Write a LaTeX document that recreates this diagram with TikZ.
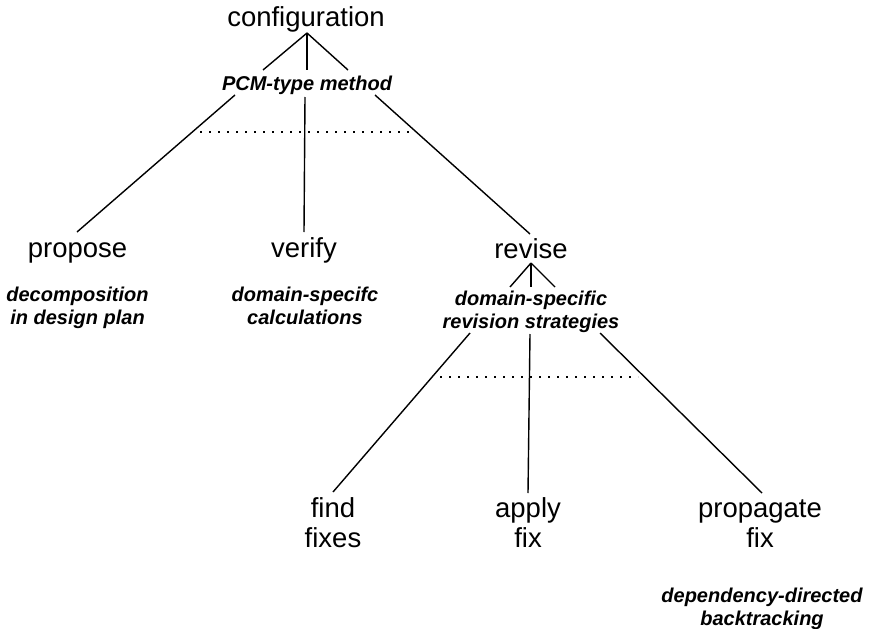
\documentclass[tikz,border=0pt]{standalone}
\usepackage{fontspec}
\setmainfont{Liberation Sans}
\begin{document}
\begin{tikzpicture}[x=1pt,y=-1pt,
  task/.style={inner sep=0pt, anchor=base, align=center,
    font=\fontsize{27.5}{29.5}\selectfont},
  method/.style={inner sep=0pt, anchor=base, align=center,
    font=\fontsize{20}{23}\selectfont\bfseries\itshape},
  link/.style={line width=1.4pt},
  alt/.style={line width=1.8pt, dash pattern=on 1.8pt off 7.2pt}]
\useasboundingbox (0,0) rectangle (873,629);

% task nodes (base = baseline of the last line)
\node[task] (conf)    at (306,27)    {configuration};
\node[task] (propose) at (77.5,257)  {propose};
\node[task] (verify)  at (304,257)   {verify};
\node[task] (revise)  at (531,258)   {revise};
\node[task] (find)    at (333,547) {find\\fixes};
\node[task] (apply)   at (528,547) {apply\\fix};
\node[task] (prop)    at (760,547) {propagate\\fix};

% method labels
\node[method] (pcm)    at (307,90.4)  {PCM-type method};
\node[method] (decomp) at (77.5,324.5) {decomposition\\in design plan};
\node[method] (calc)   at (305,324.5) {domain-specifc\\calculations};
\node[method] (revstr) at (531,328.5) {domain-specific\\revision strategies};
\node[method] (ddb)    at (762,625)   {dependency-directed\\backtracking};

% junction points of the connectors
\coordinate (confA) at (307,33);
\coordinate (pcmTa) at (263,70);
\coordinate (pcmTb) at (307,70);
\coordinate (pcmTc) at (348,70);
\coordinate (pcmBa) at (235,95);
\coordinate (pcmBb) at (305,97);
\coordinate (pcmBc) at (375,95);
\coordinate (proposeT) at (77,232);
\coordinate (verifyT)  at (304,232);
\coordinate (reviseT)  at (530,234);
\coordinate (reviseA)  at (531,263);
\coordinate (revTa) at (510,287);
\coordinate (revTb) at (531,287);
\coordinate (revTc) at (555,287);
\coordinate (revBa) at (470,333);
\coordinate (revBb) at (530,334);
\coordinate (revBc) at (600,333);
\coordinate (findT)  at (333,492);
\coordinate (applyT) at (528,493);
\coordinate (propT)  at (762,493);
\coordinate (altAl) at (200,132);
\coordinate (altAr) at (415,132);
\coordinate (altBl) at (440,377);
\coordinate (altBr) at (638,377);

% configuration -> method -> subtasks
\draw[link] (confA) -- (pcmTa);
\draw[link] (confA) -- (pcmTb);
\draw[link] (confA) -- (pcmTc);
\draw[link] (pcmBa) -- (proposeT);
\draw[link] (pcmBb) -- (verifyT);
\draw[link] (pcmBc) -- (reviseT);
\draw[alt] (altAl) -- (altAr);

% revise -> method -> subtasks
\draw[link] (reviseA) -- (revTa);
\draw[link] (reviseA) -- (revTb);
\draw[link] (reviseA) -- (revTc);
\draw[link] (revBa) -- (findT);
\draw[link] (revBb) -- (applyT);
\draw[link] (revBc) -- (propT);
\draw[alt] (altBl) -- (altBr);
\end{tikzpicture}
\end{document}
